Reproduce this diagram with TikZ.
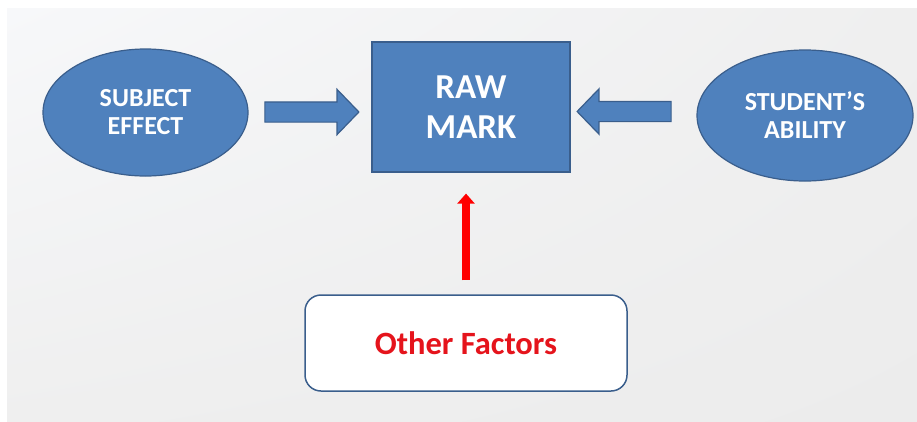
\documentclass[tikz,border=0pt]{standalone}
\usepackage{fontspec}
\setmainfont{Carlito}
\usepackage{xcolor}
\usepackage{tikz}
\usetikzlibrary{shapes,shapes.arrows,shadings,arrows.meta,positioning}
\definecolor{mblue}{HTML}{4F81BD}
\definecolor{dblue}{HTML}{3A5E8C}
\definecolor{fred}{HTML}{E5141C}
\definecolor{bglite}{HTML}{F7F8FA}
\definecolor{bgmid}{HTML}{EFEFEF}
\definecolor{bgdark}{HTML}{ECECEC}
\tikzset{ell/.style={ellipse,draw=dblue,fill=mblue,line width=1.2pt,text=white,align=center,inner sep=0pt,font=\bfseries\fontsize{26}{28}\selectfont},
  sq/.style={rectangle,draw=dblue,fill=mblue,line width=1.2pt,text=white,align=center,font=\bfseries\fontsize{35}{40}\selectfont},
  barr/.style={single arrow,draw=dblue,fill=mblue,line width=1.2pt,inner xsep=0pt,inner ysep=9.5pt,minimum height=94pt,single arrow head extend=12.5pt,single arrow tip angle=92},
  obox/.style={rectangle,rounded corners=16pt,draw=dblue,fill=white,line width=1.5pt,text=fred,font=\bfseries\fontsize{32.5}{36}\selectfont}}

\begin{document}
\begin{tikzpicture}[x=1pt,y=-1pt,>=stealth]
        \useasboundingbox (0,0) rectangle (917,421);
        \shade[upper left=bglite,upper right=bgmid,lower left=bgmid,lower right=bgdark] (7,8) rectangle (917,421);

        \node[ell,minimum width=205pt,minimum height=127pt] (subj) at (145.5,112.5) {SUBJECT\\EFFECT};
        \node[sq,minimum width=198pt,minimum height=130pt] (raw) at (471,107) {RAW\\MARK};
        \node[ell,minimum width=216pt,minimum height=131pt] (abil) at (805,115.5) {STUDENT’S\\ABILITY};
        \node[obox,minimum width=322pt,minimum height=96pt] (other) at (466,343) {Other Factors};

        \node[barr] (rarr) at (307,112) {};
        \node[barr,shape border rotate=180] (larr) at (629,111.5) {};

        \draw [-{Triangle[width=17pt,length=10pt]},red,line width=8pt,shorten <=14pt,shorten >=21pt] (other.north) to [] (other.north |- raw.south);
    \end{tikzpicture}
\end{document}
